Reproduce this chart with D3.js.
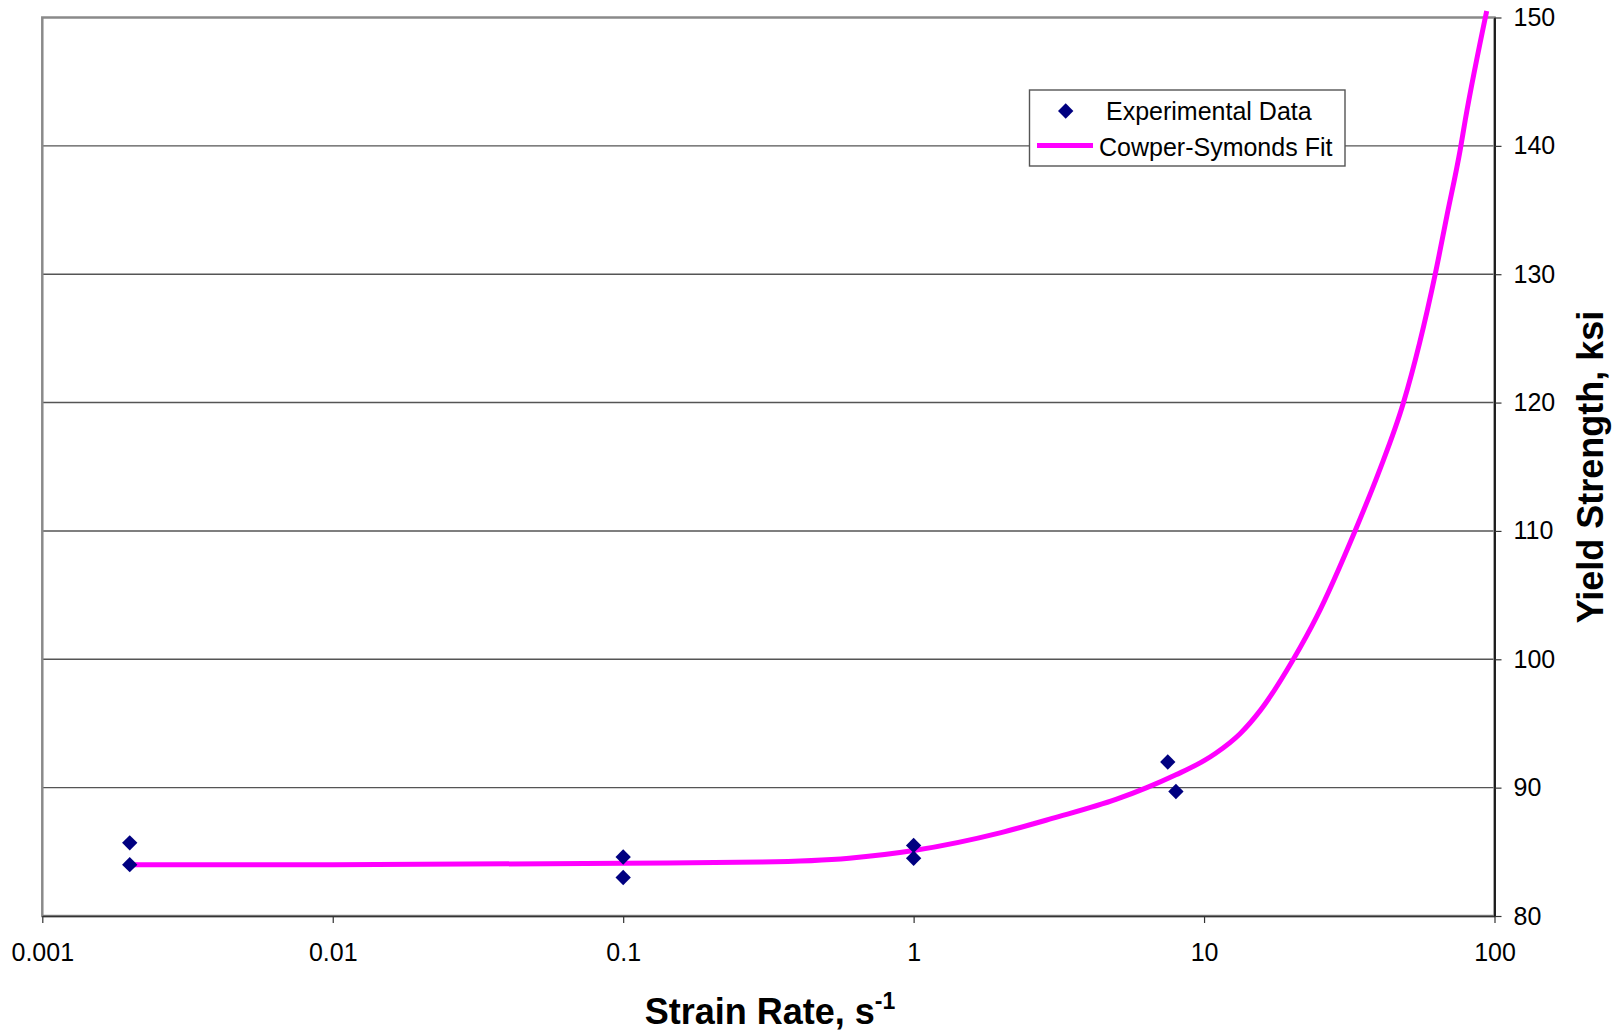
<!DOCTYPE html>
<html>
<head>
<meta charset="utf-8">
<script src="https://cdn.jsdelivr.net/npm/d3@7"></script>
<style>
  html, body { margin: 0; padding: 0; background: #fff; }
  svg { display: block; font-family: "Liberation Sans", Arial, sans-serif; }
</style>
</head>
<body>
<svg id="chart" width="1618" height="1034"></svg>
<script>
// Measured yield strength (ksi) at each strain rate (1/s)
const expRate     = [0.002, 0.002, 0.1, 0.1, 1, 1, 7.5, 8];
const expStrength = [85.7, 84.0, 84.6, 83.0, 85.5, 84.5, 92.0, 89.7];

// Cowper-Symonds fit curve, sampled along strain rate
const fitRate     = [0.002, 0.01, 0.1, 0.3, 0.6, 1, 2, 3, 5, 6.35, 8, 10, 11, 13.3, 15.6, 20.3, 24.4, 33.1, 40, 48.6, 62.5, 68.5, 76.2, 79.3, 94];
const fitStrength = [84.0, 84.0, 84.1, 84.2, 84.5, 85.1, 86.5, 87.6, 89.1, 90.0, 91.0, 92.1, 92.7, 94.2, 96.0, 100.0, 103.3, 110.0, 114.6, 120.0, 130.0, 134.5, 139.7, 142.0, 150.5];

// Axis ticks
const xTickValues = [0.001, 0.01, 0.1, 1, 10, 100];
const xTickLabels = ["0.001", "0.01", "0.1", "1", "10", "100"];
const yTickValues = [80, 90, 100, 110, 120, 130, 140, 150];

const legendLabels = ["Experimental Data", "Cowper-Symonds Fit"];

const svg = d3.select("#chart");
const plotLeft = 42.3, plotRight = 1494.5, plotTop = 17.5, plotBottom = 916;

const x = d3.scaleLog().domain([0.001, 100]).range([plotLeft, plotRight]);
const y = d3.scaleLinear().domain([80, 150]).range([plotBottom, plotTop]);

// Horizontal gridlines
svg.append("g")
  .selectAll("line")
  .data(yTickValues.filter(v => v > 80 && v < 150))
  .join("line")
  .attr("x1", plotLeft).attr("x2", plotRight)
  .attr("y1", d => y(d)).attr("y2", d => y(d))
  .attr("stroke", "#555").attr("stroke-width", 1.4);

// Plot area border
svg.append("rect")
  .attr("x", plotLeft).attr("y", plotTop)
  .attr("width", plotRight - plotLeft).attr("height", plotBottom - plotTop)
  .attr("fill", "none").attr("stroke", "#8a8a8a").attr("stroke-width", 2.5);

// Bottom (log) axis
const xAxis = svg.append("g")
  .attr("transform", `translate(0,${plotBottom})`)
  .call(d3.axisBottom(x)
    .tickValues(xTickValues)
    .tickFormat((d, i) => xTickLabels[i])
    .tickSize(7)
    .tickPadding(20)
    .tickSizeOuter(0));
xAxis.select(".domain").attr("stroke", "#333").attr("stroke-width", 1.6);
xAxis.selectAll(".tick line").attr("stroke", "#333").attr("stroke-width", 1.2);
xAxis.selectAll(".tick text")
  .attr("font-size", 25).attr("fill", "#000")
  .attr("font-family", "Liberation Sans, Arial, sans-serif");

// Right (value) axis
const yAxis = svg.append("g")
  .attr("transform", `translate(${plotRight},0)`)
  .call(d3.axisRight(y)
    .tickValues(yTickValues)
    .tickFormat(d3.format("d"))
    .tickSize(7)
    .tickPadding(12)
    .tickSizeOuter(0));
yAxis.select(".domain").attr("stroke", "#000").attr("stroke-width", 1.6);
yAxis.selectAll(".tick line").attr("stroke", "#333").attr("stroke-width", 1.2);
yAxis.selectAll(".tick text")
  .attr("font-size", 25).attr("fill", "#000")
  .attr("font-family", "Liberation Sans, Arial, sans-serif");

// Fit curve
const fitPoints = fitRate.map((r, i) => [r, fitStrength[i]]);
svg.append("path")
  .datum(fitPoints)
  .attr("fill", "none")
  .attr("stroke", "#ff00ff")
  .attr("stroke-width", 5)
  .attr("stroke-linejoin", "round")
  .attr("d", d3.line().x(d => x(d[0])).y(d => y(d[1])).curve(d3.curveMonotoneX));

// Experimental data markers
const diamond = d3.symbol().type(d3.symbolDiamond2).size(150);
svg.append("g")
  .selectAll("path")
  .data(expRate.map((r, i) => [r, expStrength[i]]))
  .join("path")
  .attr("d", diamond)
  .attr("transform", d => `translate(${x(d[0])},${y(d[1])})`)
  .attr("fill", "#000080");

// Legend
const lg = svg.append("g");
lg.append("rect")
  .attr("x", 1029.5).attr("y", 90)
  .attr("width", 315.5).attr("height", 76)
  .attr("fill", "#fff").attr("stroke", "#555").attr("stroke-width", 1.4);
lg.append("path")
  .attr("d", diamond)
  .attr("transform", "translate(1065.7,111)")
  .attr("fill", "#000080");
lg.append("line")
  .attr("x1", 1037).attr("x2", 1093)
  .attr("y1", 145.5).attr("y2", 145.5)
  .attr("stroke", "#ff00ff").attr("stroke-width", 5);
lg.append("text")
  .attr("x", 1106).attr("y", 119.5)
  .attr("font-size", 25).text(legendLabels[0]);
lg.append("text")
  .attr("x", 1099).attr("y", 155.5)
  .attr("font-size", 25).text(legendLabels[1]);

// Axis titles
const xt = svg.append("text")
  .attr("x", 770).attr("y", 1024)
  .attr("text-anchor", "middle")
  .attr("font-size", 36).attr("font-weight", "bold");
xt.append("tspan").text("Strain Rate, s");
xt.append("tspan").attr("dy", -15).attr("font-size", 23).text("-1");

svg.append("text")
  .attr("transform", "translate(1603,467) rotate(-90)")
  .attr("text-anchor", "middle")
  .attr("font-size", 36).attr("font-weight", "bold")
  .text("Yield Strength, ksi");
</script>
</body>
</html>
